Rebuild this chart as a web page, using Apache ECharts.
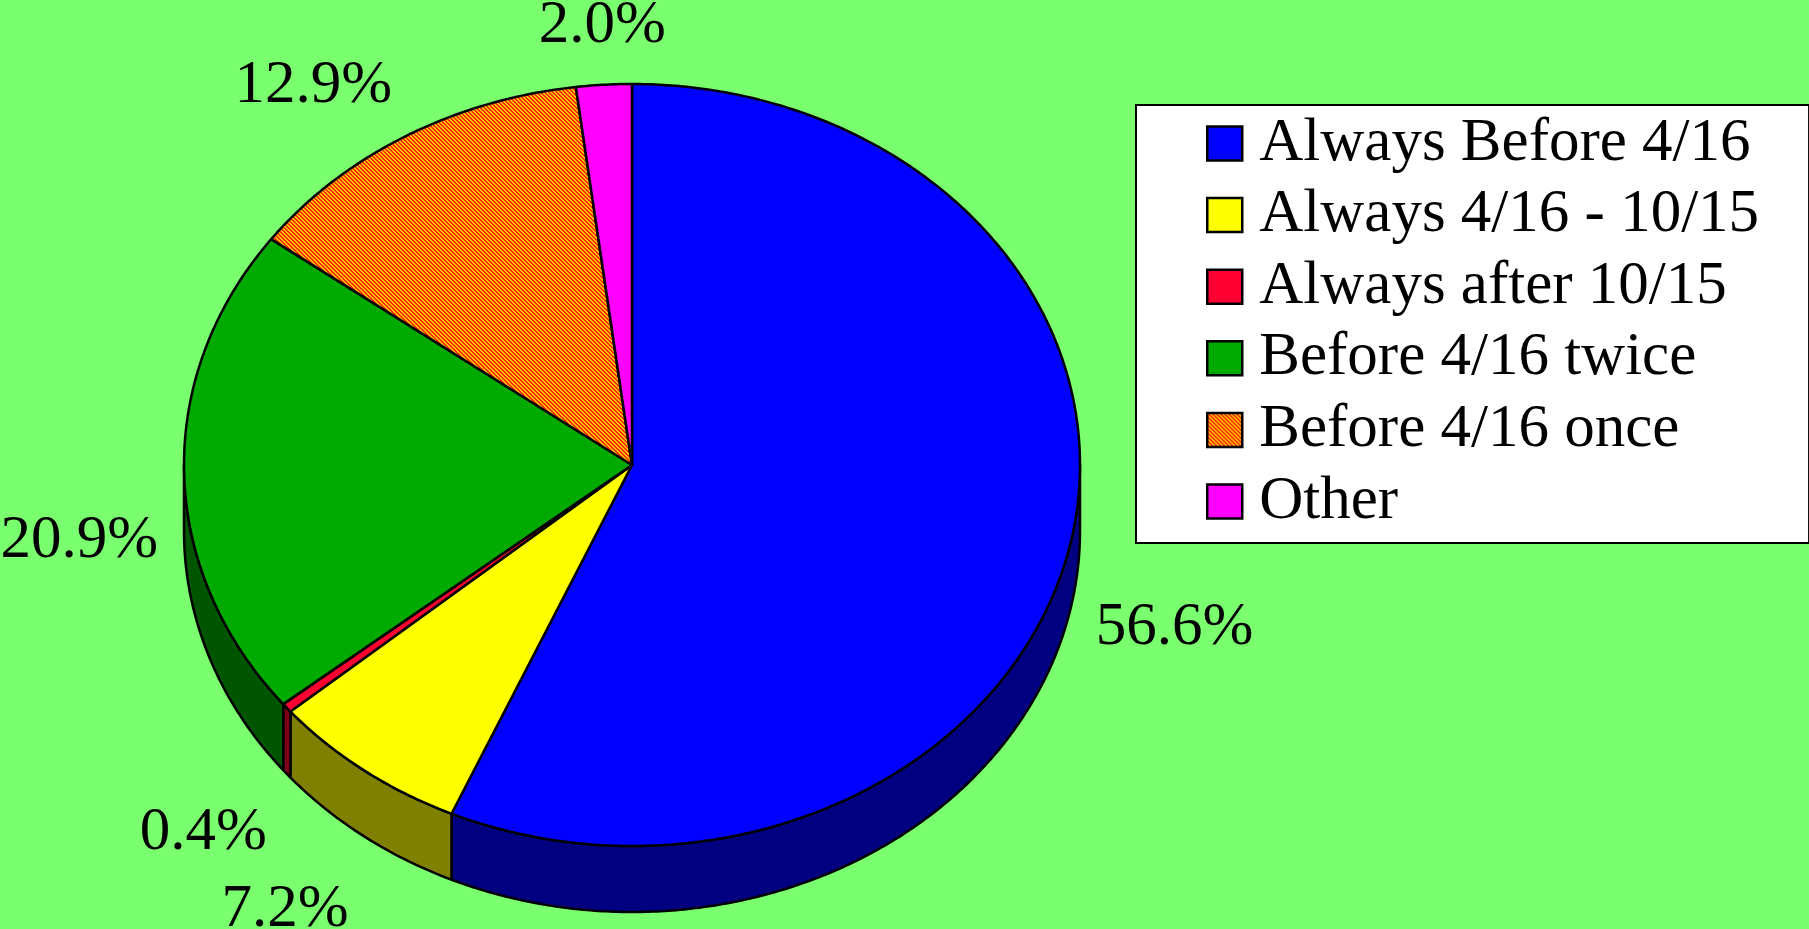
<!DOCTYPE html>
<html>
<head>
<meta charset="utf-8">
<script src="https://cdn.jsdelivr.net/npm/echarts@6.0.0/dist/echarts.min.js"></script>
<style>
html, body { margin: 0; padding: 0; background: #7AFF6E; }
#chart { width: 1809px; height: 929px; }
</style>
</head>
<body>
<div id="chart"></div>
<script>
const categories = [
    "Always Before 4/16",
    "Always 4/16 - 10/15",
    "Always after 10/15",
    "Before 4/16 twice",
    "Before 4/16 once",
    "Other"
];
const shares = [56.6, 7.2, 0.4, 20.9, 12.9, 2.0];
const topColors = ["#0000FF", "#FFFF00", "#FF0033", "#00AA00", "hatch", "#FF00FF"];
const sideColors = ["#000080", "#808000", "#80001A", "#005500", "#802000", "#800080"];

const chart = echarts.init(document.getElementById("chart"));

// ellipse geometry of the tilted pie
const pie = { cx: 632, cy: 465, rx: 448, ry: 381, depth: 66 };
const FONT = '61px "Liberation Serif", "Times New Roman", serif';

function makeHatch() {
    const c = document.createElement("canvas");
    c.width = 4;
    c.height = 4;
    const ctx = c.getContext("2d");
    for (let y = 0; y < 4; y++) {
        for (let x = 0; x < 4; x++) {
            ctx.fillStyle = ((x - y + 4) % 4) < 2 ? "#FF2A00" : "#FFC000";
            ctx.fillRect(x, y, 1, 1);
        }
    }
    return { image: c, repeat: "repeat" };
}

const hatch = makeHatch();
const fills = topColors.map(c => (c === "hatch" ? hatch : c));

const total = shares.reduce((a, b) => a + b, 0);
const starts = [];
shares.reduce((acc, v) => {
    starts.push(acc);
    return acc + v;
}, 0);

function pt(a, dy) {
    return [pie.cx + pie.rx * Math.sin(a), pie.cy - pie.ry * Math.cos(a) + dy];
}

function arc(a0, a1, dy) {
    const n = Math.max(2, Math.ceil((a1 - a0) / (Math.PI / 360)));
    const pts = [];
    for (let k = 0; k <= n; k++) {
        pts.push(pt(a0 + (a1 - a0) * k / n, dy));
    }
    return pts;
}

function drawSlice(i, api) {
    const start = api.value(0);
    const val = api.value(1);
    const a0 = start / total * Math.PI * 2;
    const a1 = (start + val) / total * Math.PI * 2;
    const children = [];

    // front wall, only the part facing the viewer
    const s0 = Math.max(a0, Math.PI / 2);
    const s1 = Math.min(a1, Math.PI * 1.5);
    if (s1 > s0) {
        const wall = arc(s0, s1, 0).concat(arc(s0, s1, pie.depth).reverse());
        children.push({
            type: "polygon",
            z2: 1,
            shape: { points: wall },
            style: { fill: sideColors[i], stroke: "#000", lineWidth: 2.5, lineJoin: "round" }
        });
    }

    children.push({
        type: "polygon",
        z2: 5,
        shape: { points: [[pie.cx, pie.cy]].concat(arc(a0, a1, 0)) },
        style: { fill: fills[i], stroke: "#000", lineWidth: 2.5, lineJoin: "round" }
    });

    // percentage label outside the rim
    const mid = (a0 + a1) / 2;
    const s = Math.sin(mid);
    const c = Math.cos(mid);
    const x = pie.cx + (pie.rx + 26) * s;
    const y = c > 0
        ? pie.cy - (pie.ry + 59) * c
        : pie.cy - (pie.ry + 92) * c + pie.depth;
    children.push({
        type: "text",
        z2: 10,
        style: {
            text: val.toFixed(1) + "%",
            x: x,
            y: y,
            font: FONT,
            fill: "#000",
            align: s > 0.25 ? "left" : s < -0.25 ? "right" : "center",
            verticalAlign: "middle"
        }
    });

    return { type: "group", children: children };
}

const option = {
    backgroundColor: "#7AFF6E",
    animation: false,
    legend: {
        orient: "vertical",
        left: 1136,
        top: 105,
        padding: [8, 50, 11, 70],
        backgroundColor: "#FFFFFF",
        borderColor: "#000",
        borderWidth: 2,
        borderRadius: 0,
        itemWidth: 35,
        itemHeight: 34,
        itemGap: 10.6,
        icon: "rect",
        selectedMode: false,
        itemStyle: { borderColor: "#000", borderWidth: 2.5 },
        textStyle: {
            fontFamily: '"Liberation Serif", "Times New Roman", serif',
            fontSize: 61,
            color: "#000",
            padding: [0, 0, 0, 12]
        },
        data: categories
    },
    series: categories.map((name, i) => ({
        type: "custom",
        name: name,
        coordinateSystem: "none",
        silent: true,
        itemStyle: { color: fills[i], borderColor: "#000", borderWidth: 2 },
        data: [[starts[i], shares[i]]],
        renderItem: (params, api) => drawSlice(i, api)
    }))
};

chart.setOption(option);
</script>
</body>
</html>
